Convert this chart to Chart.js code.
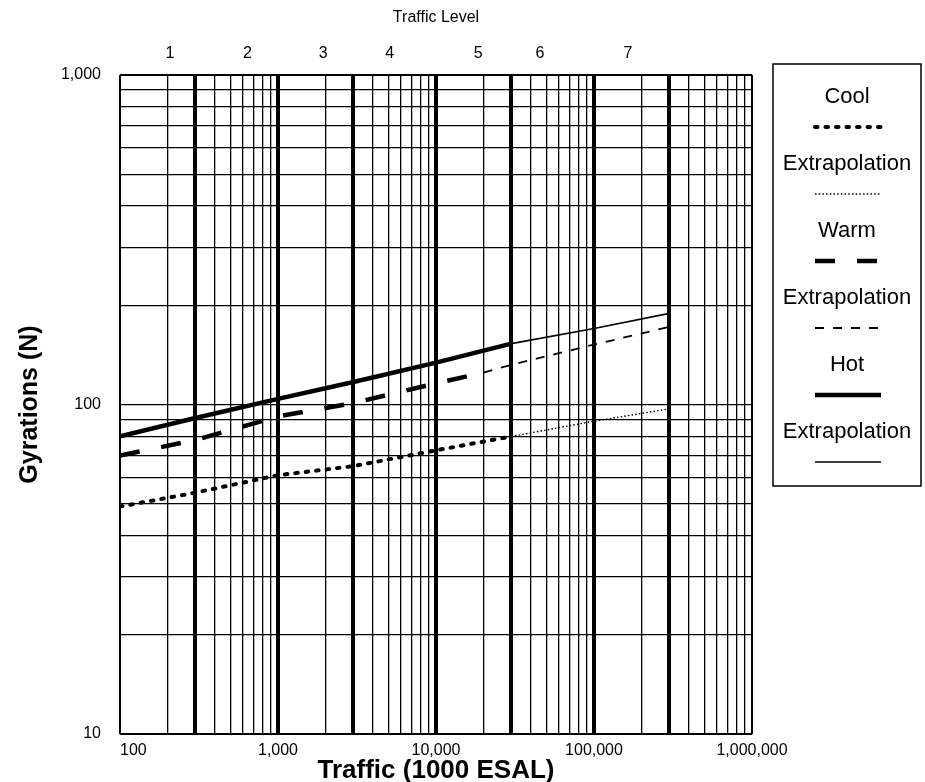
<!DOCTYPE html>
<html><head><meta charset="utf-8">
<script src="https://cdn.jsdelivr.net/npm/chart.js@4"></script>
<style>html,body{margin:0;padding:0;background:#fff}</style>
</head><body>
<canvas id="c" width="925" height="782"></canvas>
<script>
// ---- data ----
const xDecades = [100, 1000, 10000, 100000, 1000000];
const xTickLabels = ['100', '1,000', '10,000', '100,000', '1,000,000'];
const yDecades = [10, 100, 1000];
const yTickLabels = ['10', '100', '1,000'];
const gridMultiples = [1, 2, 3, 4, 5, 6, 7, 8, 9];
const levelBounds = [300, 1000, 3000, 10000, 30000, 100000, 300000];
const trafficLevels = ['1', '2', '3', '4', '5', '6', '7'];
const trafficLevelAt = [207, 640, 1930, 5100, 18500, 45500, 164000];

const coolX = [100, 300, 1000, 3000, 10000, 30000];
const coolY = [49, 54, 61, 65, 72.6, 80];
const coolExtX = [30000, 100000, 300000];
const coolExtY = [80, 89, 97];

const warmX = [100, 300, 1000, 3000, 10000, 20000];
const warmY = [70, 78, 92, 101, 116, 125];
const warmExtX = [20000, 30000, 100000, 300000];
const warmExtY = [125, 132, 152, 172];

const hotX = [100, 300, 1000, 3000, 10000, 30000];
const hotY = [80, 91, 104, 117, 134, 153];
const hotExtX = [30000, 100000, 300000];
const hotExtY = [153, 170, 189];

const seriesLabels = ['Cool', 'Extrapolation', 'Warm', 'Extrapolation', 'Hot', 'Extrapolation'];

// ---- helpers ----
const pts = (xs, ys) => xs.map((x, i) => ({x: x, y: ys[i]}));
function logTicks(decades) {
  const t = [];
  for (let d = 0; d < decades.length - 1; d++) {
    gridMultiples.forEach(m => t.push({value: decades[d] * m}));
  }
  t.push({value: decades[decades.length - 1]});
  return t;
}
const FONT = "'Liberation Sans', Arial, Helvetica, sans-serif";

const styles = [
  {borderWidth: 4, borderDash: [2.5, 8], borderCapStyle: 'round'},
  {borderWidth: 1.4, borderDash: [1.5, 2.2], borderCapStyle: 'butt'},
  {borderWidth: 4.5, borderDash: [20, 22], borderCapStyle: 'butt'},
  {borderWidth: 1.8, borderDash: [9, 9], borderCapStyle: 'butt'},
  {borderWidth: 4.5, borderDash: [], borderCapStyle: 'butt'},
  {borderWidth: 1.6, borderDash: [], borderCapStyle: 'butt'}
];
const seriesData = [pts(coolX, coolY), pts(coolExtX, coolExtY), pts(warmX, warmY),
                    pts(warmExtX, warmExtY), pts(hotX, hotY), pts(hotExtX, hotExtY)];

const datasets = seriesData.map((d, i) => Object.assign({
  label: seriesLabels[i],
  data: d,
  borderColor: '#000',
  backgroundColor: '#000',
  pointRadius: 0,
  fill: false,
  tension: 0,
  xAxisID: 'x',
  yAxisID: 'y'
}, styles[i]));

const boxLegend = {
  id: 'boxLegend',
  afterDraw(chart) {
    const ctx = chart.ctx;
    const L = 773, R = 921, T = 64, B = 486;
    ctx.save();
    ctx.strokeStyle = '#000';
    ctx.lineWidth = 1.5;
    ctx.strokeRect(L, T, R - L, B - T);
    const cx = (L + R) / 2;
    ctx.fillStyle = '#000';
    ctx.font = '22px ' + FONT;
    ctx.textAlign = 'center';
    ctx.textBaseline = 'middle';
    chart.data.datasets.forEach((ds, i) => {
      const ty = 97 + 67 * i;
      ctx.fillText(ds.label, cx, ty);
      const sy = ty + 30;
      ctx.beginPath();
      ctx.lineWidth = ds.borderWidth;
      ctx.setLineDash(ds.borderDash || []);
      ctx.lineCap = ds.borderCapStyle || 'butt';
      ctx.moveTo(815, sy);
      ctx.lineTo(881, sy);
      ctx.stroke();
    });
    ctx.restore();
  }
};

new Chart(document.getElementById('c'), {
  type: 'line',
  data: {datasets: datasets},
  plugins: [boxLegend],
  options: {
    responsive: false,
    animation: false,
    devicePixelRatio: 1,
    layout: {padding: {left: 0, right: 173, top: 0, bottom: 0}},
    plugins: {legend: {display: false}, tooltip: {enabled: false}},
    scales: {
      x: {
        type: 'logarithmic', position: 'bottom', min: 100, max: 1000000,
        afterBuildTicks: s => { s.ticks = logTicks(xDecades); },
        afterFit: s => { s.height = 48; },
        border: {display: false},
        grid: {
          color: '#000', drawTicks: false,
          lineWidth: c => {
            const v = c.tick ? c.tick.value : 0;
            if (levelBounds.includes(v)) return 4;
            if (v === 100 || v === 1000000) return 2;
            return 1.3;
          }
        },
        ticks: {
          autoSkip: false, maxRotation: 0, color: '#000', padding: 7,
          font: {family: FONT, size: 16},
          callback: v => {
            const i = xDecades.indexOf(v);
            if (i < 0) return '';
            return i === 0 ? '\u2007\u2007\u2007' + xTickLabels[i] : xTickLabels[i];
          }
        },
        title: {display: true, text: 'Traffic (1000 ESAL)', color: '#000',
                font: {family: FONT, size: 26, weight: 'bold', lineHeight: 0.85},
                padding: {top: 0, bottom: 0}}
      },
      top: {
        type: 'logarithmic', position: 'top', min: 100, max: 1000000,
        afterBuildTicks: s => { s.ticks = trafficLevelAt.map(v => ({value: v})); },
        afterFit: s => { s.height = 75; },
        border: {display: false},
        grid: {display: false, drawTicks: false},
        ticks: {
          autoSkip: false, maxRotation: 0, color: '#000', padding: 12,
          font: {family: FONT, size: 16},
          callback: (v, i) => trafficLevels[i]
        },
        title: {display: true, text: 'Traffic Level', color: '#000',
                font: {family: FONT, size: 16, lineHeight: 1.2},
                padding: {top: 8, bottom: 0}}
      },
      y: {
        type: 'logarithmic', position: 'left', min: 10, max: 1000,
        afterBuildTicks: s => { s.ticks = logTicks(yDecades); },
        afterFit: s => { s.width = 120; },
        border: {display: false},
        grid: {
          color: '#000', drawTicks: false,
          lineWidth: c => {
            const v = c.tick ? c.tick.value : 0;
            if (v === 10 || v === 1000) return 2;
            return 1.3;
          }
        },
        ticks: {
          autoSkip: false, color: '#000', padding: 19,
          font: {family: FONT, size: 16},
          callback: v => {
            const i = yDecades.indexOf(v);
            return i < 0 ? '' : yTickLabels[i];
          }
        },
        title: {display: true, text: 'Gyrations (N)', color: '#000',
                font: {family: FONT, size: 25, weight: 'bold', lineHeight: 1.2},
                padding: {top: 15, bottom: 0}}
      }
    }
  }
});
</script>
</body></html>
